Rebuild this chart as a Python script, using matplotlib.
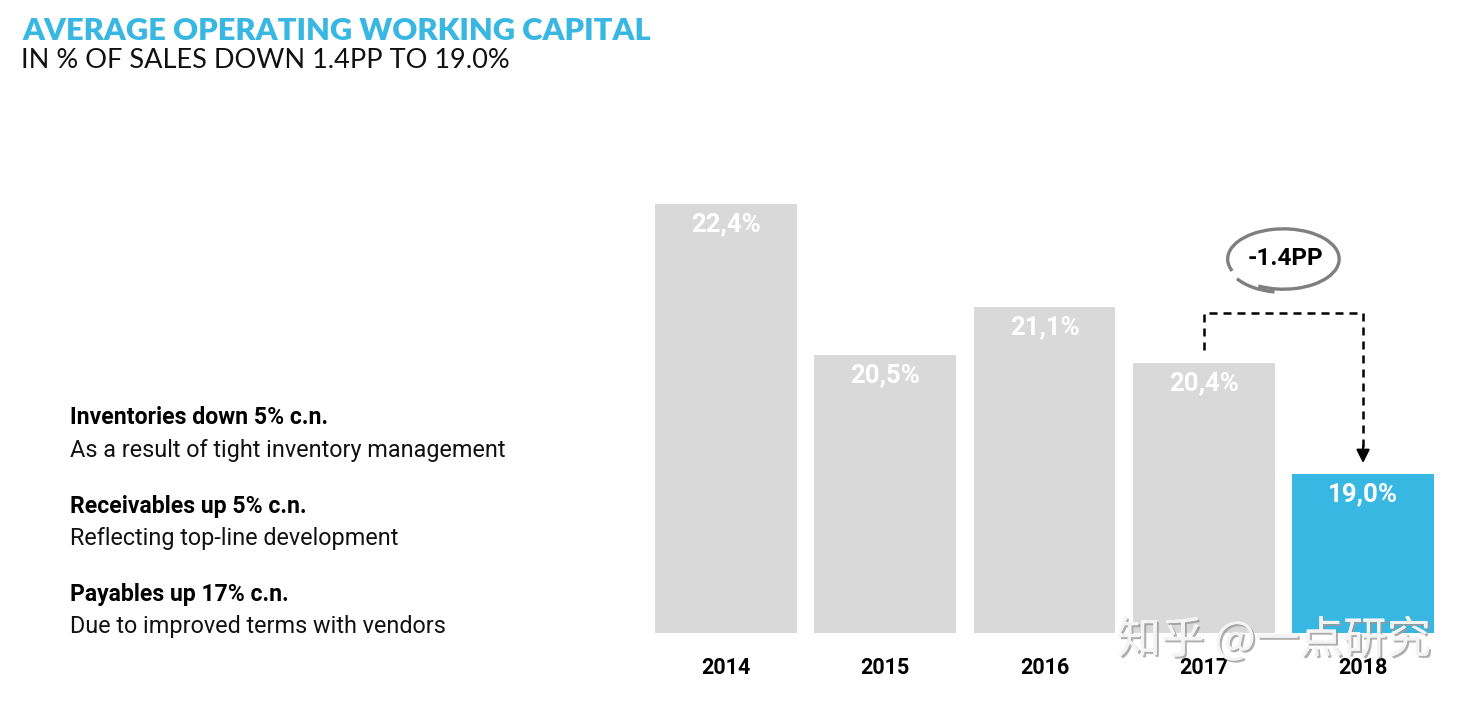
import matplotlib
matplotlib.use("Agg")
import matplotlib.pyplot as plt
import matplotlib.patheffects as pe
from matplotlib.patches import Arc

# chart data
years = ['2014', '2015', '2016', '2017', '2018']
owc_pct = [22.4, 20.5, 21.1, 20.4, 19.0]
bar_labels = ['22,4%', '20,5%', '21,1%', '20,4%', '19,0%']
delta_label = '-1.4PP'

title = 'AVERAGE OPERATING WORKING CAPITAL'
subtitle = 'IN % OF SALES DOWN 1.4PP TO 19.0%'
notes = [
    ('Inventories down 5% c.n.', 'As a result of tight inventory management'),
    ('Receivables up 5% c.n.', 'Reflecting top-line development'),
    ('Payables up 17% c.n.', 'Due to improved terms with vendors'),
]

BLUE = '#38b7e3'
GREY = '#d9d9d9'
W, H = 1468, 701


def fx(px):
    return px / W


def fy(py):
    return 1 - py / H


fig = plt.figure(figsize=(W / 100, H / 100), dpi=100)
fig.patch.set_facecolor('white')

# title block
fig.text(fx(22), fy(31), title, color=BLUE, fontsize=22.2, fontweight='heavy',
         family='Lato', va='center', ha='left')
fig.text(fx(21), fy(60), subtitle, color='#111111', fontsize=19.5, fontweight='normal',
         family='Lato', va='center', ha='left')

# left-hand notes
for i, (head, body) in enumerate(notes):
    y0 = 418 + i * 88.5
    fig.text(fx(70), fy(y0), head, fontsize=16.6, fontweight='bold', family='Roboto',
             color='black', va='center', ha='left')
    fig.text(fx(70), fy(y0 + 32), body, fontsize=16.8, family='Roboto',
             color='#111111', va='center', ha='left')

# bar chart
ax_left, ax_right, ax_top, ax_bot = 640, 1450, 150, 633
ax = fig.add_axes([fx(ax_left), fy(ax_bot), fx(ax_right - ax_left), (ax_bot - ax_top) / H])
x = list(range(len(years)))
colors = [GREY] * (len(years) - 1) + [BLUE]
ax.bar(x, owc_pct, width=0.89, color=colors, bottom=0, zorder=2)
ax.set_ylim(17.0, 17.0 + (ax_bot - ax_top) / 79.4)
ax.set_xlim(-0.54, 4.546)
ax.axis('off')

for xi, v, lab in zip(x, owc_pct, bar_labels):
    ax.annotate(lab, (xi, v), xytext=(0, -20), textcoords='offset pixels',
                ha='center', va='center', color='white', fontsize=18.5,
                fontweight='bold', family='Roboto', zorder=4)
    ax.annotate(years[xi], (xi, 17.0), xytext=(0, -35), textcoords='offset pixels',
                ha='center', va='center', color='black', fontsize=15.5,
                fontweight='bold', family='Roboto', zorder=6, annotation_clip=False)

# dashed bracket 2017 -> 2018
y_start = owc_pct[3] + 0.16
y_top = owc_pct[3] + 0.63
y_tip = owc_pct[4] + 0.14
ax.plot([3, 3, 4, 4], [y_start, y_top, y_top, y_tip + 0.2], color='black', lw=1.8,
        dashes=(3.2, 2.4), zorder=3, solid_capstyle='butt')
ax.annotate('', xy=(4, y_tip), xytext=(4, y_tip + 0.22),
            arrowprops=dict(arrowstyle='-|>', color='black', lw=1.5, mutation_scale=20,
                            shrinkA=0, shrinkB=0), zorder=3)

# circled delta (hand-drawn look: main loop plus an outer tail)
ax.text(3.51, 21.72, delta_label, ha='center', va='center', fontsize=17.5,
        fontweight='bold', family='Roboto', color='black', zorder=4)
ax.add_patch(Arc((3.50, 21.71), 0.70, 0.76, theta1=245, theta2=565,
                 color='#7f7f7f', lw=2.4, zorder=4))
ax.add_patch(Arc((3.50, 21.69), 0.71, 0.80, theta1=218, theta2=262,
                 color='#7f7f7f', lw=2.4, zorder=4))

# watermark
fig.text(fx(1117), fy(640), '知乎 @一点研究', fontsize=31.5,
         family=['Noto Sans CJK SC', 'DejaVu Sans'], color='#f4f4f4',
         va='center', ha='left', zorder=5,
         path_effects=[pe.withSimplePatchShadow(offset=(1.5, -1.5), shadow_rgbFace='#9a9a9a', alpha=0.8),
                       pe.Normal()])

fig.savefig('out.png', dpi=100)
